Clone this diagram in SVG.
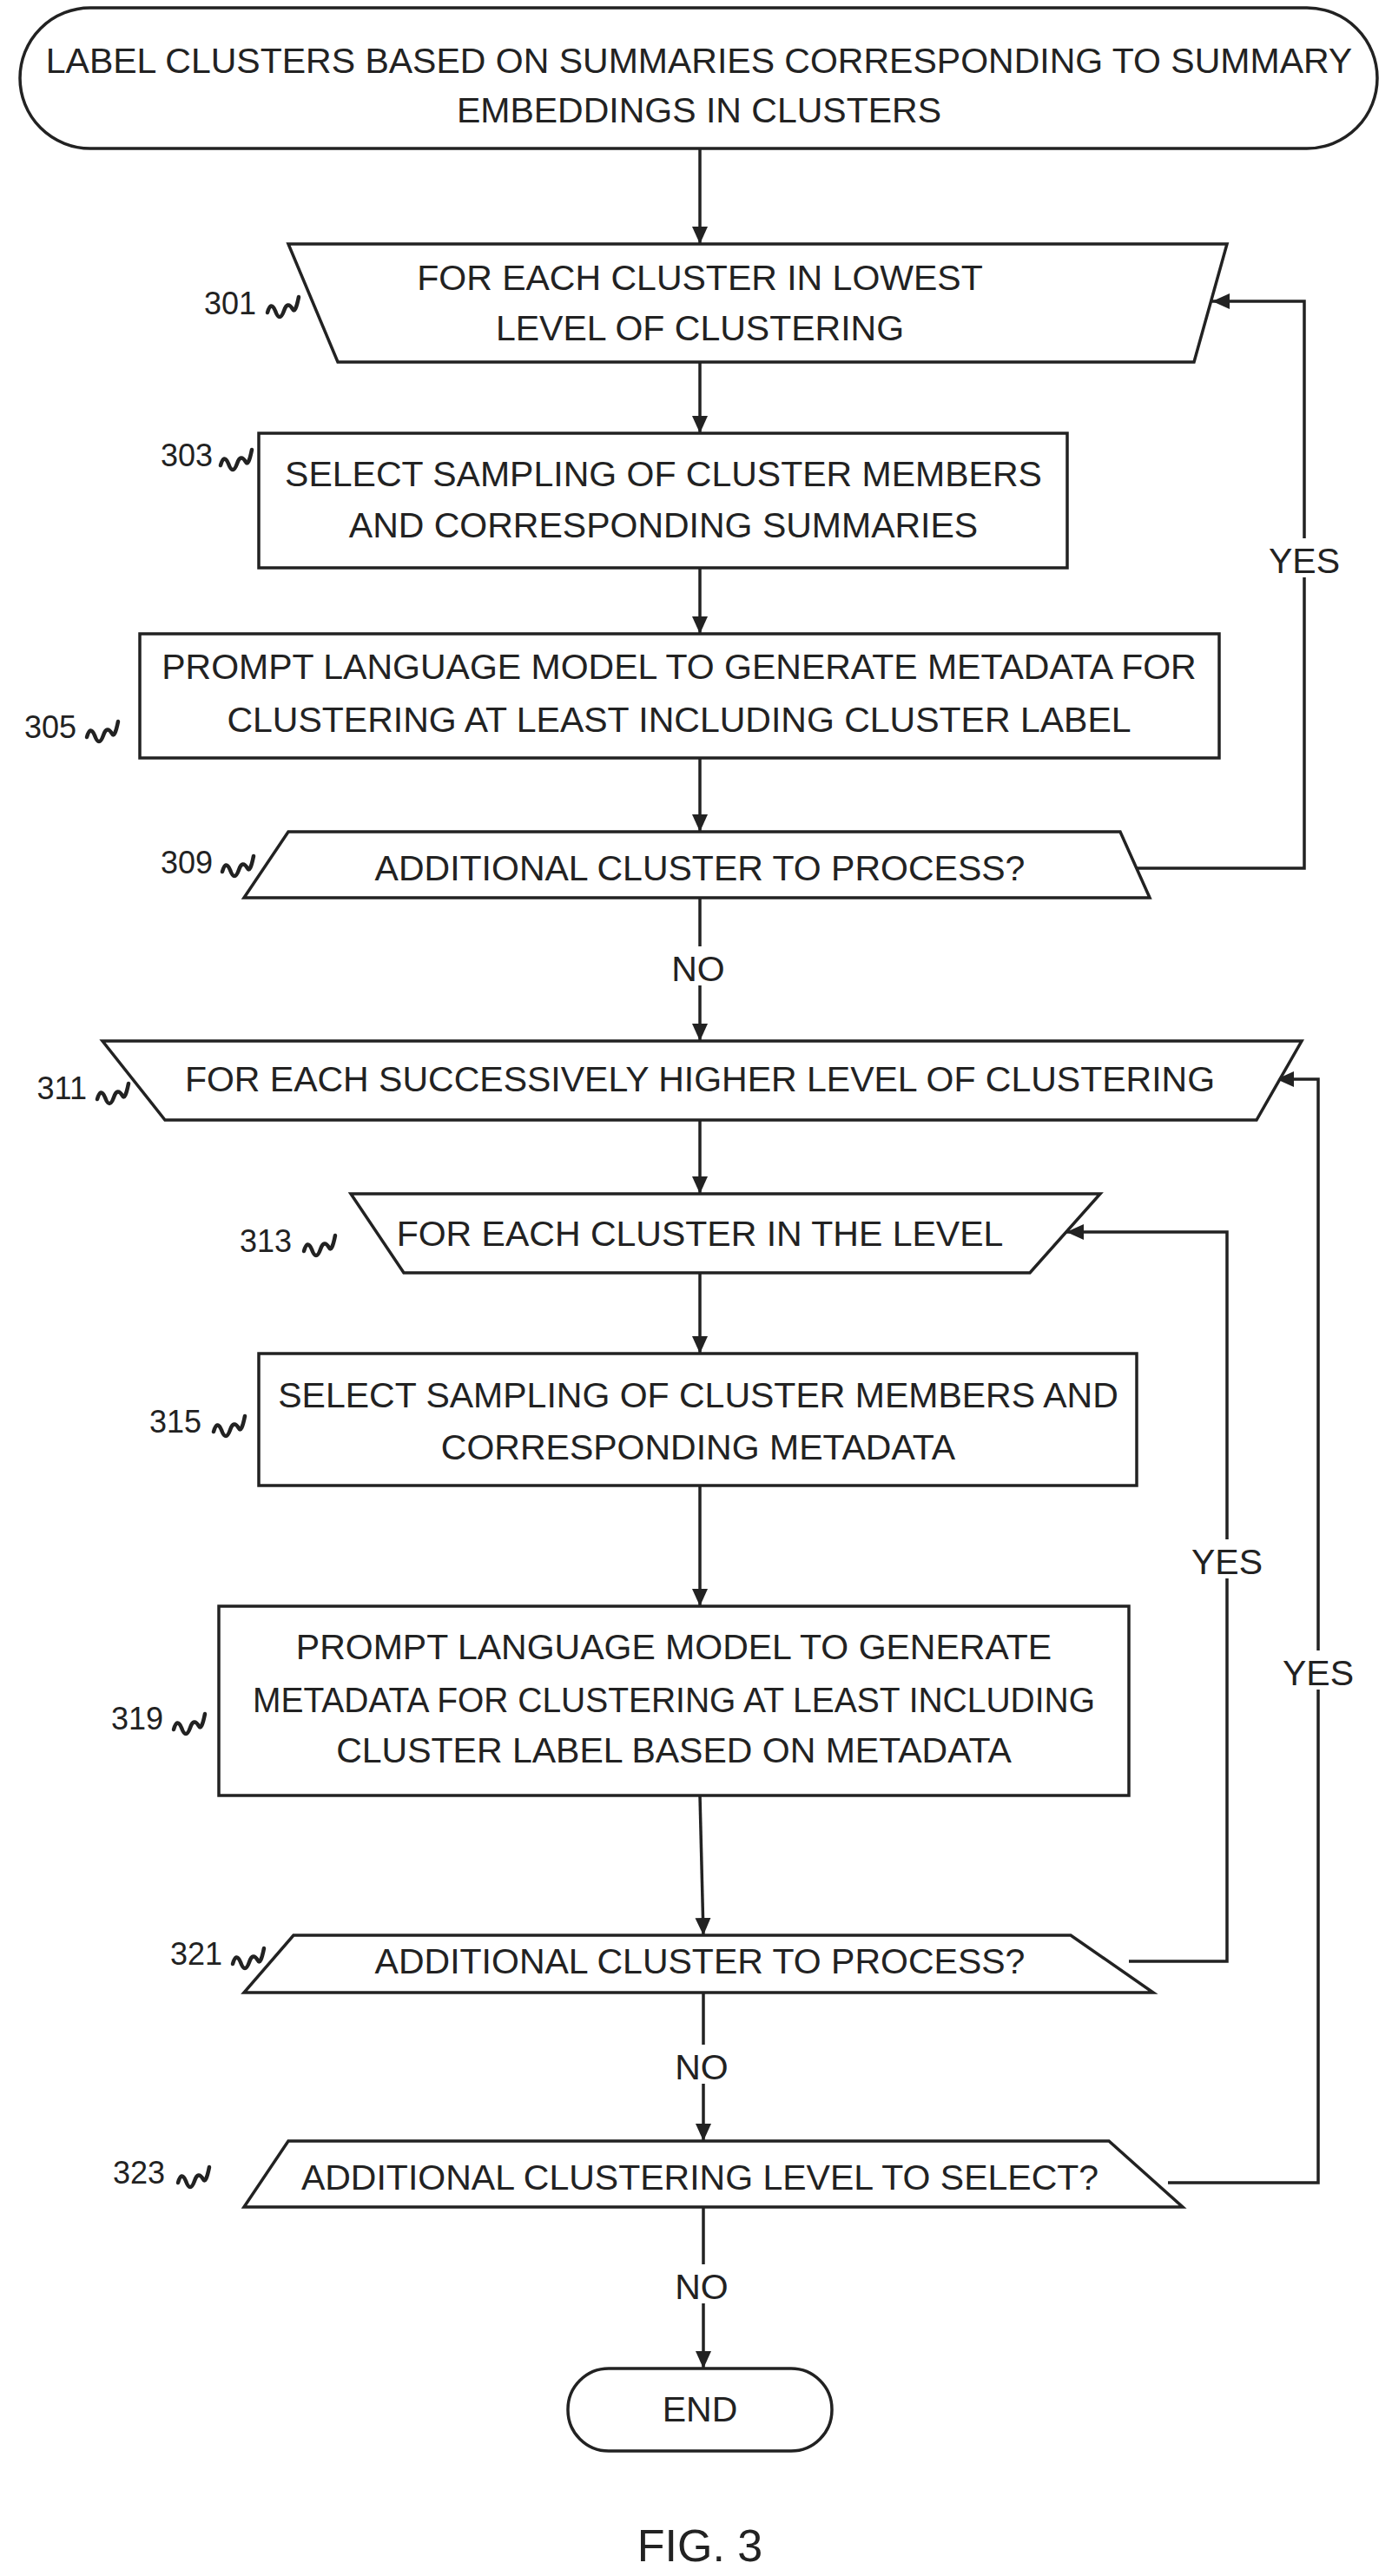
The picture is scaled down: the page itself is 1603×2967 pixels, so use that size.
<svg xmlns="http://www.w3.org/2000/svg" width="1603" height="2967" viewBox="0 0 1603 2967">
<style>
.s{fill:#fff;stroke:#222;stroke-width:3.5}
.t{font-family:"Liberation Sans",Arial,sans-serif;font-size:41px;fill:#222;text-anchor:middle}
.l{font-family:"Liberation Sans",Arial,sans-serif;font-size:36px;fill:#222;text-anchor:end}
.c{fill:none;stroke:#222;stroke-width:3.5}
.q{fill:none;stroke:#222;stroke-width:4.5;stroke-linecap:round}
</style>
<defs>
<marker id="ah" markerWidth="22" markerHeight="22" refX="20" refY="11" orient="auto" markerUnits="userSpaceOnUse"><path d="M0,2 L20,11 L0,20 z" fill="#222"/></marker>
<path id="sq" d="M0,8 q4,-14 9,-2 q5,14 10,0 q4,-12 10,-2 q3,6 7,-14"/>
</defs>
<g id="connectors">
<path class="c" d="M806,171 V281" marker-end="url(#ah)"/>
<path class="c" d="M806,417 V499" marker-end="url(#ah)"/>
<path class="c" d="M806,654 V730" marker-end="url(#ah)"/>
<path class="c" d="M806,873 V958" marker-end="url(#ah)"/>
<path class="c" d="M1300,1000 H1502 V347 H1396" marker-end="url(#ah)"/>
<path class="c" d="M806,1034 V1199" marker-end="url(#ah)"/>
<path class="c" d="M806,1290 V1375" marker-end="url(#ah)"/>
<path class="c" d="M806,1466 V1559" marker-end="url(#ah)"/>
<path class="c" d="M806,1711 V1850" marker-end="url(#ah)"/>
<path class="c" d="M806,2068 L810,2229" marker-end="url(#ah)"/>
<path class="c" d="M1300,2259 H1413 V1419 H1228" marker-end="url(#ah)"/>
<path class="c" d="M810,2295 V2466" marker-end="url(#ah)"/>
<path class="c" d="M1345,2514 H1518 V1243 H1470" marker-end="url(#ah)"/>
<path class="c" d="M810,2542 V2728" marker-end="url(#ah)"/>
<rect x="770" y="1090" width="70" height="45" fill="#fff"/>
<text class="t" x="804" y="1130">NO</text>
<rect x="770" y="2355" width="75" height="45" fill="#fff"/>
<text class="t" x="808" y="2395">NO</text>
<rect x="770" y="2608" width="75" height="45" fill="#fff"/>
<text class="t" x="808" y="2648">NO</text>
<rect x="1465" y="620" width="75" height="45" fill="#fff"/>
<text class="t" x="1502" y="660">YES</text>
<rect x="1375" y="1773" width="75" height="45" fill="#fff"/>
<text class="t" x="1413" y="1813">YES</text>
<rect x="1480" y="1901" width="75" height="45" fill="#fff"/>
<text class="t" x="1518" y="1941">YES</text>
</g>
<g id="start">
<rect class="s" x="23" y="9" width="1563" height="162" rx="81"/>
<text class="t" x="805" y="84">LABEL CLUSTERS BASED ON SUMMARIES CORRESPONDING TO SUMMARY</text>
<text class="t" x="805" y="141">EMBEDDINGS IN CLUSTERS</text>
</g>
<g id="n301">
<polygon class="s" points="332,281 1413,281 1375,417 389,417"/>
<text class="t" x="806" y="334">FOR EACH CLUSTER IN LOWEST</text>
<text class="t" x="806" y="392">LEVEL OF CLUSTERING</text>
<text class="l" x="295" y="362">301</text>
<use href="#sq" class="q" x="308" y="352"/>
</g>
<g id="n303">
<rect class="s" x="298" y="499" width="931" height="155"/>
<text class="t" x="764" y="560">SELECT SAMPLING OF CLUSTER MEMBERS</text>
<text class="t" x="764" y="619">AND CORRESPONDING SUMMARIES</text>
<text class="l" x="245" y="537">303</text>
<use href="#sq" class="q" x="254" y="528"/>
</g>
<g id="n305">
<rect class="s" x="161" y="730" width="1243" height="143"/>
<text class="t" x="782" y="782">PROMPT LANGUAGE MODEL TO GENERATE METADATA FOR</text>
<text class="t" x="782" y="843">CLUSTERING AT LEAST INCLUDING CLUSTER LABEL</text>
<text class="l" x="88" y="850">305</text>
<use href="#sq" class="q" x="100" y="841"/>
</g>
<g id="n309">
<polygon class="s" points="332,958 1290,958 1324,1034 281,1034"/>
<text class="t" x="806" y="1014">ADDITIONAL CLUSTER TO PROCESS?</text>
<text class="l" x="245" y="1006">309</text>
<use href="#sq" class="q" x="256" y="996"/>
</g>
<g id="n311">
<polygon class="s" points="118,1199 1499,1199 1447,1290 190,1290"/>
<text class="t" x="806" y="1257">FOR EACH SUCCESSIVELY HIGHER LEVEL OF CLUSTERING</text>
<text class="l" x="100" y="1266">311</text>
<use href="#sq" class="q" x="112" y="1258"/>
</g>
<g id="n313">
<polygon class="s" points="404,1375 1267,1375 1186,1466 465,1466"/>
<text class="t" x="806" y="1435">FOR EACH CLUSTER IN THE LEVEL</text>
<text class="l" x="336" y="1442">313</text>
<use href="#sq" class="q" x="350" y="1433"/>
</g>
<g id="n315">
<rect class="s" x="298" y="1559" width="1011" height="152"/>
<text class="t" x="804" y="1621">SELECT SAMPLING OF CLUSTER MEMBERS AND</text>
<text class="t" x="804" y="1681">CORRESPONDING METADATA</text>
<text class="l" x="232" y="1650">315</text>
<use href="#sq" class="q" x="246" y="1641"/>
</g>
<g id="n319">
<rect class="s" x="252" y="1850" width="1048" height="218"/>
<text class="t" x="776" y="1911">PROMPT LANGUAGE MODEL TO GENERATE</text>
<text class="t" x="776" y="1972" textLength="970" lengthAdjust="spacingAndGlyphs">METADATA FOR CLUSTERING AT LEAST INCLUDING</text>
<text class="t" x="776" y="2030">CLUSTER LABEL BASED ON METADATA</text>
<text class="l" x="188" y="1992">319</text>
<use href="#sq" class="q" x="200" y="1984"/>
</g>
<g id="n321">
<polygon class="s" points="338,2229 1233,2229 1328,2295 281,2295"/>
<text class="t" x="806" y="2273">ADDITIONAL CLUSTER TO PROCESS?</text>
<text class="l" x="256" y="2263">321</text>
<use href="#sq" class="q" x="268" y="2254"/>
</g>
<g id="n323">
<polygon class="s" points="332,2466 1277,2466 1362,2542 281,2542"/>
<text class="t" x="806" y="2522">ADDITIONAL CLUSTERING LEVEL TO SELECT?</text>
<text class="l" x="190" y="2515">323</text>
<use href="#sq" class="q" x="205" y="2506"/>
</g>
<g id="end">
<rect class="s" x="654" y="2728" width="304" height="95" rx="47"/>
<text class="t" x="806" y="2789">END</text>
</g>
<text class="t" x="806" y="2950" style="font-size:52px">FIG. 3</text>
</svg>
